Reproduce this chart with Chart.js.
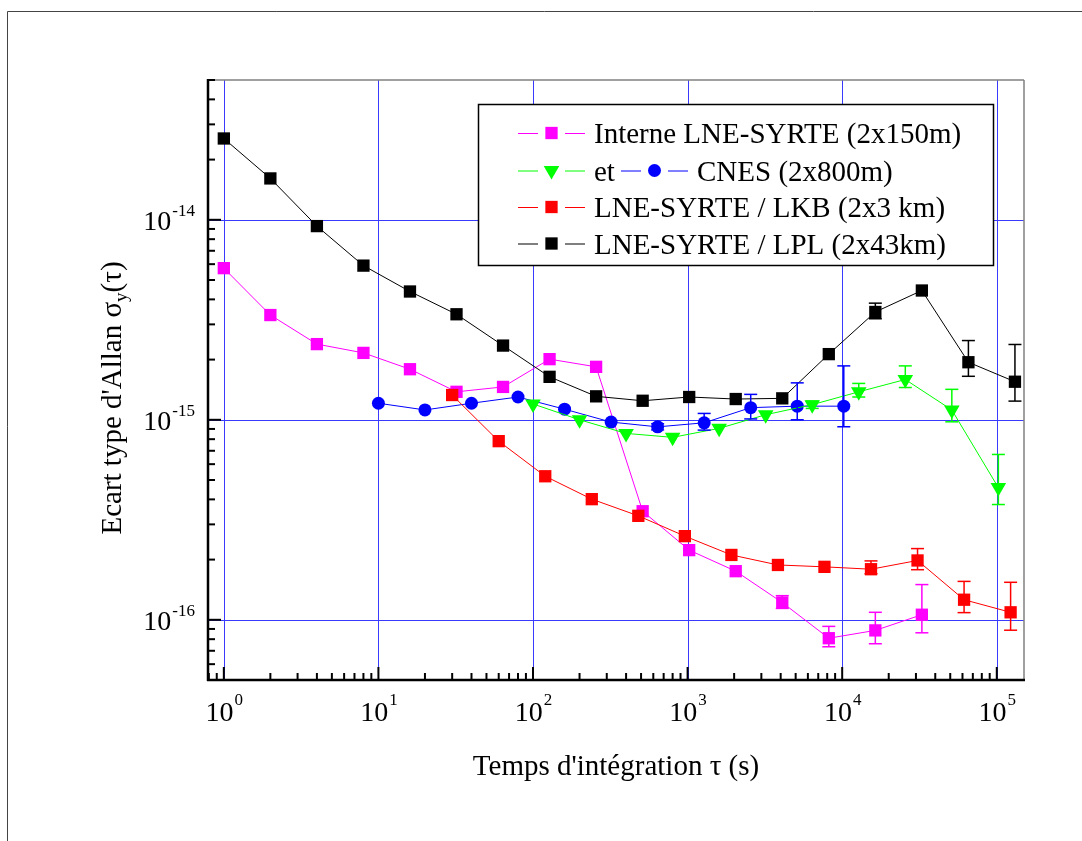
<!DOCTYPE html>
<html>
<head>
<meta charset="utf-8">
<script src="https://cdn.jsdelivr.net/npm/chart.js@4"></script>
<style>
  html, body { margin: 0; padding: 0; background: #fff; }
  canvas { display: block; }
</style>
</head>
<body>
<canvas id="allanChart" width="1082" height="841"></canvas>
<script>
// Interne LNE-SYRTE (2x150m)
const tauInterne = [1, 2, 4, 8, 16, 32, 64, 128, 256, 512, 1024, 2048, 4096, 8192, 16384, 32768];
const sigInterne = [5.73e-15, 3.34e-15, 2.39e-15, 2.16e-15, 1.79e-15, 1.38e-15, 1.46e-15, 2.01e-15,
  1.84e-15, 3.49e-16, 2.23e-16, 1.75e-16, 1.22e-16, 8.09e-17, 8.85e-17, 1.06e-16];
const loInterne = [null, null, null, null, null, null, null, null, null, null, null, null, 1.14e-16, 7.33e-17, 7.59e-17, 8.61e-17];
const hiInterne = [null, null, null, null, null, null, null, null, null, null, null, null, 1.32e-16, 9.27e-17, 1.09e-16, 1.50e-16];

// et (green triangles)
const tauEt = [100, 200, 400, 800, 1600, 3200, 6400, 12800, 25600, 51200, 102400];
const sigEt = [1.20e-15, 1.0e-15, 8.55e-16, 8.17e-16, 9.06e-16, 1.06e-15, 1.19e-15, 1.38e-15, 1.59e-15, 1.12e-15, 4.58e-16];
const loEt = [null, null, null, null, null, null, 1.14e-15, 1.30e-15, 1.45e-15, 9.77e-16, 3.77e-16];
const hiEt = [null, null, null, null, null, null, 1.24e-15, 1.52e-15, 1.86e-15, 1.42e-15, 6.71e-16];

// CNES (2x800m)
const tauCnes = [10, 20, 40, 80, 160, 320, 640, 1280, 2560, 5120, 10240];
const sigCnes = [1.21e-15, 1.12e-15, 1.21e-15, 1.30e-15, 1.13e-15, 9.74e-16, 9.22e-16, 9.66e-16, 1.15e-15, 1.17e-15, 1.17e-15];
const loCnes = [null, null, null, null, null, null, 8.9e-16, 8.88e-16, 1.01e-15, 1.0e-15, 9.23e-16];
const hiCnes = [null, null, null, null, null, null, 9.55e-16, 1.076e-15, 1.34e-15, 1.53e-15, 1.86e-15];

// LNE-SYRTE / LKB (2x3 km)
const tauLkb = [30, 60, 120, 240, 480, 960, 1920, 3840, 7680, 15360, 30720, 61440, 122880];
const sigLkb = [1.33e-15, 7.82e-16, 5.22e-16, 4.01e-16, 3.31e-16, 2.62e-16, 2.11e-16, 1.88e-16, 1.84e-16,
  1.79e-16, 1.98e-16, 1.26e-16, 1.09e-16];
const loLkb = [null, null, null, null, null, null, null, null, null, 1.70e-16, 1.78e-16, 1.086e-16, 8.87e-17];
const hiLkb = [null, null, null, null, null, null, null, null, null, 1.97e-16, 2.27e-16, 1.556e-16, 1.54e-16];

// LNE-SYRTE / LPL (2x43km)
const tauLpl = [1, 2, 4, 8, 16, 32, 64, 128, 256, 512, 1024, 2048, 4096, 8192, 16384, 32768, 65536, 131072];
const sigLpl = [2.55e-14, 1.61e-14, 9.3e-15, 5.9e-15, 4.38e-15, 3.37e-15, 2.35e-15, 1.64e-15, 1.31e-15,
  1.245e-15, 1.30e-15, 1.27e-15, 1.28e-15, 2.13e-15, 3.46e-15, 4.43e-15, 1.94e-15, 1.55e-15];
const loLpl = [null, null, null, null, null, null, null, null, null, null, null, null, null, null, 3.2e-15, null, 1.65e-15, 1.24e-15];
const hiLpl = [null, null, null, null, null, null, null, null, null, null, null, null, null, null, 3.83e-15, null, 2.49e-15, 2.38e-15];

// axis decades (tick labels are 10^n)
const xDecades = [0, 1, 2, 3, 4, 5];
const yDecades = [-16, -15, -14];
const minorSteps = [2, 3, 4, 5, 6, 7, 8, 9];

const FONT = '"Liberation Serif", "Times New Roman", serif';

const pts = (tau, sig) => tau.map((t, i) => ({ x: t, y: sig[i] }));

function series(label, tau, sig, lo, hi, color, style, radius, rotation) {
  return {
    label,
    data: pts(tau, sig),
    errLo: lo,
    errHi: hi,
    borderColor: color,
    backgroundColor: color,
    borderWidth: 1,
    pointStyle: style,
    pointRadius: radius,
    pointRotation: rotation || 0,
    pointBorderWidth: 0,
    pointBackgroundColor: color,
    tension: 0,
  };
}

const datasets = [
  series("LNE-SYRTE / LPL (2x43km)", tauLpl, sigLpl, loLpl, hiLpl, "#000000", "rect", 8.7),
  series("LNE-SYRTE / LKB (2x3 km)", tauLkb, sigLkb, loLkb, hiLkb, "#ff0000", "rect", 8.7),
  series("et", tauEt, sigEt, loEt, hiEt, "#00ff00", "triangle", 9, 180),
  series("CNES (2x800m)", tauCnes, sigCnes, loCnes, hiCnes, "#0000ff", "circle", 6.5),
  series("Interne LNE-SYRTE (2x150m)", tauInterne, sigInterne, loInterne, hiInterne, "#ff00ff", "rect", 8.7),
];

function line(ctx, x1, y1, x2, y2) {
  ctx.beginPath();
  ctx.moveTo(x1, y1);
  ctx.lineTo(x2, y2);
  ctx.stroke();
}

function marker(ctx, ds, x, y) {
  ctx.fillStyle = ds.backgroundColor;
  ctx.strokeStyle = ds.borderColor;
  Chart.helpers.drawPoint(ctx, {
    pointStyle: ds.pointStyle, radius: ds.pointRadius, rotation: ds.pointRotation, borderWidth: 0,
  }, x, y);
}

const plotDecor = {
  id: "plotDecor",
  beforeDraw(chart) {
    const { ctx } = chart;
    ctx.save();
    ctx.strokeStyle = "#444";
    ctx.lineWidth = 1;
    ctx.beginPath();
    ctx.moveTo(7.5, 841);
    ctx.lineTo(7.5, 11.5);
    ctx.lineTo(1082, 11.5);
    ctx.stroke();
    ctx.restore();
  },
  beforeDatasetsDraw(chart) {
    const { ctx, chartArea: a, scales: { x, y } } = chart;
    ctx.save();
    ctx.strokeStyle = "#3a3aff";
    ctx.lineWidth = 1;
    xDecades.forEach((d) => {
      const px = Math.round(x.getPixelForValue(Math.pow(10, d))) + 0.5;
      line(ctx, px, a.top, px, a.bottom);
    });
    yDecades.forEach((d) => {
      const py = Math.round(y.getPixelForValue(Math.pow(10, d))) + 0.5;
      line(ctx, a.left, py, a.right, py);
    });
    ctx.restore();
  },
  afterDatasetsDraw(chart) {
    const { ctx, scales: { x, y } } = chart;
    ctx.save();
    ctx.lineWidth = 1.5;
    chart.data.datasets.forEach((ds) => {
      ctx.strokeStyle = ds.borderColor;
      ds.data.forEach((p, i) => {
        if (ds.errLo[i] == null) return;
        const px = x.getPixelForValue(p.x);
        const y1 = y.getPixelForValue(ds.errLo[i]);
        const y2 = y.getPixelForValue(ds.errHi[i]);
        line(ctx, px, y1, px, y2);
        line(ctx, px - 6.5, y1, px + 6.5, y1);
        line(ctx, px - 6.5, y2, px + 6.5, y2);
      });
    });
    ctx.restore();
  },
  afterDraw(chart) {
    const { ctx, chartArea: a, scales: { x, y } } = chart;
    ctx.save();

    // frame: top/right grey, left/bottom black
    ctx.strokeStyle = "#808080";
    ctx.lineWidth = 1.5;
    line(ctx, a.left, a.top, a.right, a.top);
    line(ctx, a.right, a.top, a.right, a.bottom);
    ctx.strokeStyle = "#000";
    ctx.lineWidth = 2.5;
    line(ctx, a.left, a.top - 1, a.left, a.bottom + 1);
    line(ctx, a.left - 1, a.bottom, a.right + 1, a.bottom);

    // inward ticks
    ctx.lineWidth = 2;
    xDecades.concat([-1]).forEach((d) => {
      const major = Math.pow(10, d);
      if (major >= x.min && major <= x.max) {
        const px = x.getPixelForValue(major);
        line(ctx, px, a.bottom, px, a.bottom - 13);
      }
      minorSteps.forEach((m) => {
        const v = m * major;
        if (v < x.min || v > x.max) return;
        const px = x.getPixelForValue(v);
        line(ctx, px, a.bottom, px, a.bottom - 7);
      });
    });
    [-17].concat(yDecades).forEach((d) => {
      const major = Math.pow(10, d);
      if (major >= y.min && major <= y.max) {
        const py = y.getPixelForValue(major);
        line(ctx, a.left, py, a.left + 13, py);
      }
      minorSteps.forEach((m) => {
        const v = m * major;
        if (v < y.min || v > y.max) return;
        const py = y.getPixelForValue(v);
        line(ctx, a.left, py, a.left + 7, py);
      });
    });

    // tick labels 10^n
    ctx.fillStyle = "#000";
    ctx.textBaseline = "alphabetic";
    ctx.textAlign = "left";
    const tickFont = "28px " + FONT;
    const supFont = "17px " + FONT;
    const bigFont = "29px " + FONT;
    xDecades.forEach((d) => {
      const px = x.getPixelForValue(Math.pow(10, d));
      ctx.font = tickFont;
      const w1 = ctx.measureText("10").width;
      ctx.font = supFont;
      const w2 = ctx.measureText(String(d)).width;
      const start = px - (w1 + w2) / 2;
      ctx.font = tickFont;
      ctx.fillText("10", start, a.bottom + 41);
      ctx.font = supFont;
      ctx.fillText(String(d), start + w1 + 1, a.bottom + 25);
    });
    yDecades.forEach((d) => {
      const py = y.getPixelForValue(Math.pow(10, d));
      ctx.font = supFont;
      const w2 = ctx.measureText(String(d)).width;
      ctx.font = tickFont;
      const w1 = ctx.measureText("10").width;
      const right = a.left - 13;
      ctx.fillText("10", right - w2 - w1 - 1, py + 10);
      ctx.font = supFont;
      ctx.fillText(String(d), right - w2, py - 4);
    });

    // axis titles
    ctx.font = bigFont;
    ctx.textAlign = "center";
    ctx.fillText("Temps d'intégration τ (s)", (a.left + a.right) / 2, 775);

    ctx.save();
    ctx.translate(121, 398);
    ctx.rotate(-Math.PI / 2);
    ctx.textAlign = "left";
    const p1 = "Ecart type d'Allan σ", p2 = "y", p3 = "(τ)";
    const subFont = "19px " + FONT;
    ctx.font = bigFont;
    const w1 = ctx.measureText(p1).width;
    const w3 = ctx.measureText(p3).width;
    ctx.font = subFont;
    const w2 = ctx.measureText(p2).width;
    let cx = -(w1 + w2 + w3) / 2;
    ctx.font = bigFont;
    ctx.fillText(p1, cx, 0);
    cx += w1;
    ctx.font = subFont;
    ctx.fillText(p2, cx, 6);
    cx += w2;
    ctx.font = bigFont;
    ctx.fillText(p3, cx, 0);
    ctx.restore();

    // legend
    const ds = chart.data.datasets;
    const byLabel = (l) => ds.find((d) => d.label === l);
    ctx.fillStyle = "#fff";
    ctx.fillRect(478, 104, 515, 161);
    ctx.strokeStyle = "#000";
    ctx.lineWidth = 1.5;
    ctx.strokeRect(478.5, 104.5, 515, 161);
    const rows = [
      [["Interne LNE-SYRTE (2x150m)", 518]],
      [["et", 518], ["CNES (2x800m)", 621]],
      [["LNE-SYRTE / LKB (2x3 km)", 518]],
      [["LNE-SYRTE / LPL (2x43km)", 518]],
    ];
    const rowY = [133, 170.5, 207, 243.5];
    ctx.textAlign = "left";
    ctx.font = bigFont;
    rows.forEach((row, r) => {
      const yy = rowY[r];
      row.forEach(([label, lx]) => {
        const d = byLabel(label);
        ctx.strokeStyle = d.borderColor;
        ctx.lineWidth = 1;
        line(ctx, lx, yy + 0.5, lx + 20, yy + 0.5);
        line(ctx, lx + 47, yy + 0.5, lx + 67, yy + 0.5);
        marker(ctx, d, lx + 33.5, yy);
        ctx.fillStyle = "#000";
        ctx.fillText(label, lx + 76, yy + 10);
      });
    });

    ctx.restore();
  },
};

new Chart(document.getElementById("allanChart"), {
  type: "line",
  data: { datasets },
  options: {
    responsive: false,
    animation: false,
    devicePixelRatio: 1,
    layout: { padding: { left: 208, top: 80, right: 58, bottom: 161 } },
    plugins: {
      legend: { display: false },
      tooltip: { enabled: false },
    },
    scales: {
      x: { type: "logarithmic", display: false, min: 0.79, max: 1.5e5 },
      y: { type: "logarithmic", display: false, min: 5e-17, max: 5e-14 },
    },
  },
  plugins: [plotDecor],
});
</script>
</body>
</html>
